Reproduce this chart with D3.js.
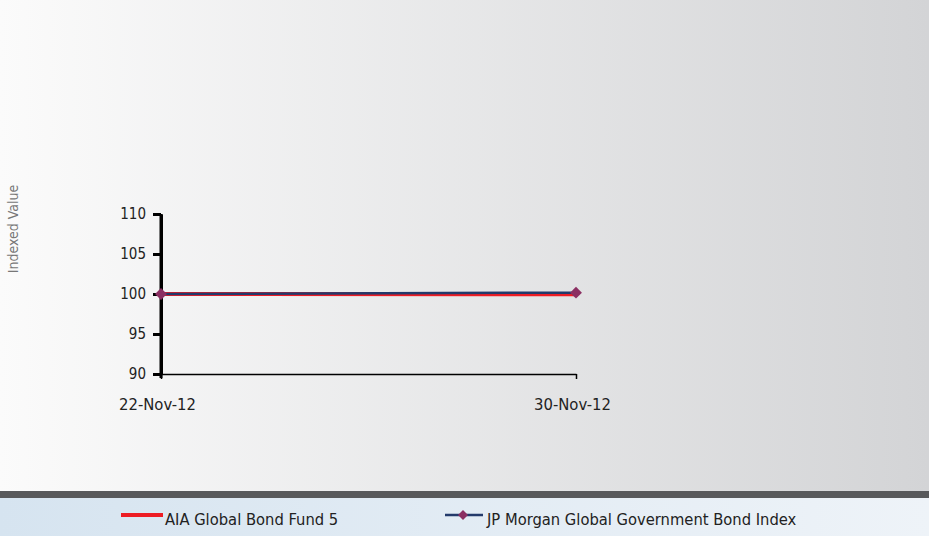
<!DOCTYPE html>
<html><head><meta charset="utf-8">
<script src="https://cdn.jsdelivr.net/npm/d3@7"></script>
<style>
body{margin:0;padding:0;overflow:hidden;}
svg{display:block;}
text{font-family:"DejaVu Sans Condensed","DejaVu Sans",sans-serif;}
</style></head><body>
<script>
const dates = ["22-Nov-12", "30-Nov-12"];
const aiaValues = [100, 99.96];
const jpmValues = [100, 100.17];
const yTicks = [90, 95, 100, 105, 110];
const seriesNames = ["AIA Global Bond Fund 5", "JP Morgan Global Government Bond Index"];

const W = 929, H = 536;
const FONT = '"DejaVu Sans Condensed","DejaVu Sans",sans-serif';
const svg = d3.select("body").append("svg").attr("width", W).attr("height", H);
const defs = svg.append("defs");
const g1 = defs.append("linearGradient").attr("id","bg").attr("x1","0").attr("x2","1").attr("y1","0").attr("y2","0");
g1.append("stop").attr("offset","0").attr("stop-color","#fbfbfb");
g1.append("stop").attr("offset","1").attr("stop-color","#d3d4d6");
const g2 = defs.append("linearGradient").attr("id","lg").attr("x1","0").attr("x2","1").attr("y1","0").attr("y2","0");
g2.append("stop").attr("offset","0").attr("stop-color","#d6e4f0");
g2.append("stop").attr("offset","1").attr("stop-color","#eef3f8");

svg.append("rect").attr("x",0).attr("y",0).attr("width",W).attr("height",491).attr("fill","url(#bg)");
svg.append("rect").attr("x",0).attr("y",491).attr("width",W).attr("height",7).attr("fill","#58595b");
svg.append("rect").attr("x",0).attr("y",498).attr("width",W).attr("height",38).attr("fill","url(#lg)");

const x = d3.scalePoint().domain(dates).range([161, 576]);
const y = d3.scaleLinear().domain([90, 110]).range([374, 214]);

const yAxis = svg.append("g").attr("transform","translate(161,0)")
  .call(d3.axisLeft(y).tickValues(yTicks).tickSize(8).tickSizeOuter(0).tickPadding(7));
yAxis.select(".domain").attr("stroke","#000").attr("stroke-width",3);
yAxis.selectAll(".tick line").attr("stroke","#000").attr("stroke-width",3);
yAxis.selectAll("text").attr("font-size",15).attr("fill","#222").style("font-family",FONT);

const xAxis = svg.append("g").attr("transform","translate(0,374)")
  .call(d3.axisBottom(x).tickSize(5).tickSizeOuter(0).tickPadding(19));
xAxis.select(".domain").attr("stroke","#000").attr("stroke-width",1.5);
xAxis.selectAll(".tick line").attr("stroke","#000").attr("stroke-width",1.5);
xAxis.selectAll("text").attr("font-size",16.5).attr("fill","#222").attr("dx",-4).style("font-family",FONT);
svg.append("line").attr("x1",161).attr("x2",161).attr("y1",y(110)).attr("y2",y(90)+4).attr("stroke","#000").attr("stroke-width",3);

svg.append("text").attr("transform",`translate(18,229) rotate(-90)`).attr("text-anchor","middle")
  .attr("font-size",14).attr("fill","#777").text("Indexed Value");

const line = d3.line().x((d,i)=>x(dates[i])).y(d=>y(d));
svg.append("path").datum(aiaValues).attr("d",line).attr("fill","none").attr("stroke","#ed1c24").attr("stroke-width",4);
svg.append("path").datum(jpmValues).attr("d",line).attr("fill","none").attr("stroke","#233a6b").attr("stroke-width",2.5);
const diamond = d3.symbol().type(d3.symbolSquare).size(70);
svg.selectAll(".mk").data(jpmValues).join("path")
  .attr("transform",(d,i)=>`translate(${x(dates[i])},${y(d)}) rotate(45)`)
  .attr("d",diamond).attr("fill","#8b2f62");

// legend
const ly = 515;
svg.append("line").attr("x1",121).attr("x2",163).attr("y1",ly).attr("y2",ly).attr("stroke","#ed1c24").attr("stroke-width",4);
svg.append("text").attr("x",165).attr("y",ly+10).attr("font-size",16.4).attr("fill","#222").text(seriesNames[0]);
svg.append("line").attr("x1",445).attr("x2",483).attr("y1",ly).attr("y2",ly).attr("stroke","#233a6b").attr("stroke-width",2.5);
svg.append("path").attr("transform",`translate(463,${ly}) rotate(45)`).attr("d",d3.symbol().type(d3.symbolSquare).size(50)).attr("fill","#8b2f62");
svg.append("text").attr("x",487).attr("y",ly+10).attr("font-size",16.4).attr("fill","#222").text(seriesNames[1]);
</script>
</body></html>
